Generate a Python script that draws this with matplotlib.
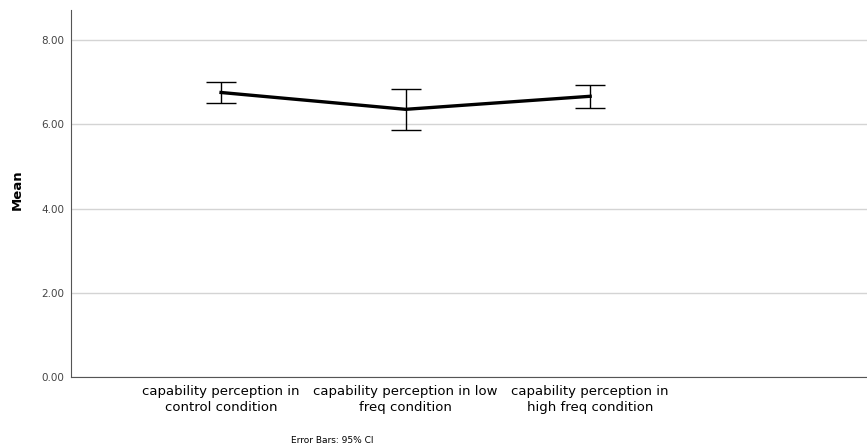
import matplotlib.pyplot as plt
import numpy as np

categories = ['capability perception in\ncontrol condition',
              'capability perception in low\nfreq condition',
              'capability perception in\nhigh freq condition']
means = [6.76, 6.36, 6.67]
ci_low = [6.50, 5.87, 6.38]
ci_high = [7.01, 6.84, 6.94]
yticks = [0, 2, 4, 6, 8]

plt.rcParams['font.family'] = ['DejaVu Sans']

fig = plt.figure(figsize=(8.67, 4.48), dpi=100)
ax = fig.add_axes([71 / 867, 1 - 377 / 448, 1 - 71 / 867, (377 - 10) / 448])

x = np.arange(len(categories))
means = np.array(means)
err = [means - np.array(ci_low), np.array(ci_high) - means]

ax.plot(x, means, color='black', lw=2.4, zorder=3)
ax.errorbar(x, means, yerr=err, fmt='none', ecolor='black', elinewidth=1,
            capsize=11, capthick=1, zorder=4)

ax.set_xlim(-0.813, 3.5)
ax.set_ylim(0, 8.72)
ax.set_yticks(yticks)
ax.set_yticklabels(['%.2f' % v for v in yticks], fontsize=7.5, color='#444444')
ax.set_xticks(x)
ax.set_xticklabels(categories, fontsize=9.5, linespacing=1.3)
ax.tick_params(axis='both', length=0)
ax.tick_params(axis='x', pad=6)
ax.tick_params(axis='y', pad=5)

ax.grid(axis='y', color='#d4d4d4', lw=1)
ax.set_axisbelow(True)
for s in ['top', 'right']:
    ax.spines[s].set_visible(False)
for s in ['left', 'bottom']:
    ax.spines[s].set_color('#555555')
    ax.spines[s].set_linewidth(0.8)

fig.text(17 / 867, 1 - 190 / 448, 'Mean', rotation=90, fontsize=9.5,
         fontweight='bold', ha='center', va='center')
fig.text(332 / 867, 1 - 440 / 448, 'Error Bars: 95% CI', fontsize=6.5,
         ha='center', va='center')

fig.savefig('out.png', dpi=100)
